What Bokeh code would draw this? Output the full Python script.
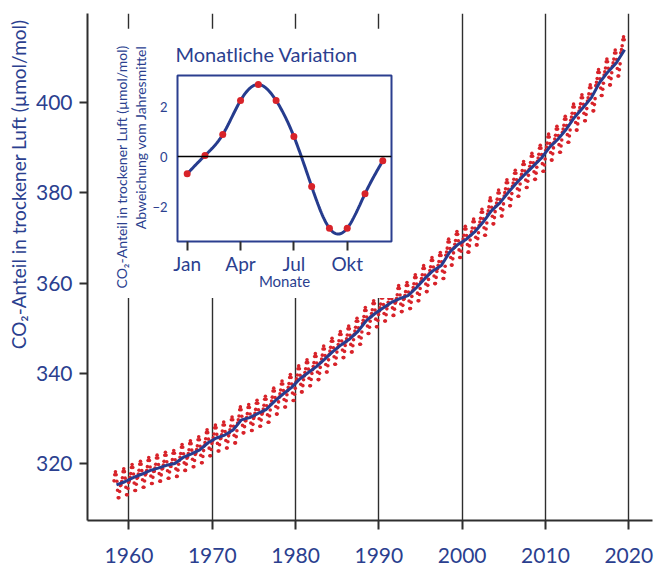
import numpy as np
from bokeh.plotting import figure
from bokeh.models import Range1d, Span, FixedTicker, Title
from bokeh.layouts import column
from bokeh.embed import file_html
from bokeh.resources import INLINE

# ---------------- data ----------------
years = list(range(1958, 2020))
annual_mean = [
    315.30, 315.98, 316.91, 317.64, 318.45, 318.99, 319.62, 320.04, 321.37, 322.18,
    323.05, 324.62, 325.68, 326.32, 327.46, 329.68, 330.19, 331.13, 332.03, 333.84,
    335.41, 336.84, 338.76, 340.12, 341.48, 343.15, 344.87, 346.35, 347.61, 349.31,
    351.69, 353.20, 354.45, 355.70, 356.54, 357.21, 358.96, 360.97, 362.74, 363.88,
    366.84, 368.54, 369.71, 371.32, 373.45, 375.98, 377.70, 379.98, 382.09, 384.02,
    385.83, 387.64, 390.10, 391.85, 394.06, 396.74, 398.81, 401.01, 404.41, 406.76,
    408.72, 411.66,
]
month_numbers = [1, 2, 3, 4, 5, 6, 7, 8, 9, 10, 11, 12]
seasonal_anomaly = [-0.69, 0.04, 0.88, 2.24, 2.88, 2.24, 0.80, -1.20, -2.87, -2.87, -1.49, -0.17]
first_month_1958 = 3   # record starts March 1958
last_month_2019 = 6    # record shown up to June 2019

x_ticks = [1960, 1970, 1980, 1990, 2000, 2010, 2020]
y_ticks = [320, 340, 360, 380, 400]
inset_x_ticks = [1, 4, 7, 10]
inset_x_labels = ["Jan", "Apr", "Jul", "Okt"]
inset_y_ticks = [-2, 0, 2]

BLUE = "#2b3f8f"
LINE_BLUE = "#263c8e"
RED = "#d8232a"
DARK = "#2e2e2e"
FONT = "Lato"

# monthly points = annual mean + mean seasonal anomaly of that month
mx, my = [], []
for yr, am in zip(years, annual_mean):
    for mn, an in zip(month_numbers, seasonal_anomaly):
        if yr == years[0] and mn < first_month_1958:
            continue
        if yr == years[-1] and mn > last_month_2019:
            continue
        mx.append(yr + (mn - 0.5) / 12.0)
        my.append(am + an)
line_x = [y + 0.5 for y in years]

# ---------------- main figure ----------------
p = figure(width=654, height=565,
           x_range=Range1d(1955.02, 2022.85), y_range=Range1d(307.4, 419.7),
           output_backend="svg", toolbar_location=None,
           min_border_left=87, min_border_right=2, min_border_top=13, min_border_bottom=45)
p.outline_line_color = None
p.background_fill_color = "white"
p.border_fill_color = "white"

p.ygrid.visible = False
p.xgrid.ticker = FixedTicker(ticks=x_ticks)
p.xgrid.grid_line_color = DARK
p.xgrid.grid_line_width = 1.4

p.xaxis.ticker = FixedTicker(ticks=x_ticks)
p.yaxis.ticker = FixedTicker(ticks=y_ticks)
for ax in (p.xaxis[0], p.yaxis[0]):
    ax.axis_line_color = DARK
    ax.axis_line_width = 2
    ax.major_tick_line_color = DARK
    ax.major_tick_line_width = 2
    ax.major_tick_in = 0
    ax.minor_tick_line_color = None
    ax.major_label_text_color = BLUE
    ax.major_label_text_font = FONT
p.xaxis.major_tick_out = 9
p.yaxis.major_tick_out = 8
p.xaxis.major_label_text_font_size = "21px"
p.yaxis.major_label_text_font_size = "21px"
p.xaxis.major_label_standoff = 18
p.yaxis.major_label_standoff = 7

p.scatter(mx, my, size=3.6, color=RED, line_color=None)
p.line(line_x, annual_mean, line_color=LINE_BLUE, line_width=3)

p.add_layout(Title(text="CO\u2082-Anteil in trockener Luft (\u00b5mol/mol)",
                   align="right", offset=6, standoff=6,
                   text_font=FONT, text_font_size="19px", text_font_style="normal",
                   text_color=BLUE), "left")

# ---------------- inset ----------------
xs = np.array(month_numbers, dtype=float)
ys = np.array(seasonal_anomaly, dtype=float)
n = len(xs)
h = np.diff(xs)
A = np.zeros((n, n))
b = np.zeros(n)
A[0, 0] = 1
A[-1, -1] = 1
for i in range(1, n - 1):
    A[i, i - 1] = h[i - 1]
    A[i, i] = 2 * (h[i - 1] + h[i])
    A[i, i + 1] = h[i]
    b[i] = 6 * ((ys[i + 1] - ys[i]) / h[i] - (ys[i] - ys[i - 1]) / h[i - 1])
M = np.linalg.solve(A, b)
cx, cy = [], []
for i in range(n - 1):
    t = np.linspace(xs[i], xs[i + 1], 20, endpoint=(i == n - 2))
    a1 = (xs[i + 1] - t) / h[i]
    a2 = (t - xs[i]) / h[i]
    val = (a1 * ys[i] + a2 * ys[i + 1]
           + ((a1 ** 3 - a1) * M[i] + (a2 ** 3 - a2) * M[i + 1]) * h[i] ** 2 / 6)
    cx.extend(t.tolist())
    cy.extend(val.tolist())

inset = figure(width=303, height=270,
               x_range=Range1d(0.455, 12.49), y_range=Range1d(-3.40, 3.24),
               output_backend="svg", toolbar_location=None,
               min_border_left=87, min_border_right=2, min_border_top=47, min_border_bottom=57)
inset.styles = {"position": "absolute", "left": "90px", "top": "28px"}
inset.background_fill_color = "white"
inset.border_fill_color = "white"
inset.outline_line_color = BLUE
inset.outline_line_width = 2
inset.xgrid.visible = False
inset.ygrid.visible = False

inset.title.text = "Monatliche Variation"
inset.title.text_font = FONT
inset.title.text_font_size = "20px"
inset.title.text_font_style = "normal"
inset.title.text_color = BLUE
inset.title.align = "left"
inset.title.offset = -2
inset.title.standoff = 20

inset.xaxis.ticker = FixedTicker(ticks=inset_x_ticks)
inset.xaxis.major_label_overrides = {t: l for t, l in zip(inset_x_ticks, inset_x_labels)}
inset.xaxis.axis_line_color = None
inset.xaxis.major_tick_out = 9
inset.xaxis.major_tick_in = 0
inset.xaxis.major_tick_line_color = DARK
inset.xaxis.major_tick_line_width = 2
inset.xaxis.minor_tick_line_color = None
inset.xaxis.major_label_text_font = FONT
inset.xaxis.major_label_text_font_size = "19px"
inset.xaxis.major_label_text_color = BLUE
inset.xaxis.major_label_standoff = 1
inset.xaxis.axis_label = "Monate"
inset.xaxis.axis_label_text_font = FONT
inset.xaxis.axis_label_text_font_size = "15px"
inset.xaxis.axis_label_text_font_style = "normal"
inset.xaxis.axis_label_text_color = BLUE
inset.xaxis.axis_label_standoff = -6

inset.yaxis.ticker = FixedTicker(ticks=inset_y_ticks)
inset.yaxis.axis_line_color = None
inset.yaxis.major_tick_out = 0
inset.yaxis.major_tick_in = 0
inset.yaxis.minor_tick_line_color = None
inset.yaxis.major_label_text_font = FONT
inset.yaxis.major_label_text_font_size = "13px"
inset.yaxis.major_label_text_color = BLUE
inset.yaxis.major_label_standoff = 10

inset.add_layout(Span(location=0, dimension="width", line_color="black", line_width=1.3))
inset.line(cx, cy, line_color=LINE_BLUE, line_width=3)
inset.scatter(month_numbers, seasonal_anomaly, size=7, color=RED, line_color=None)

inset.add_layout(Title(text="Abweichung vom Jahresmittel",
                       align="right", offset=-30, standoff=1,
                       text_font=FONT, text_font_size="14px", text_font_style="normal",
                       text_color=BLUE), "left")
inset.add_layout(Title(text="CO\u2082-Anteil in trockener Luft (\u00b5mol/mol)",
                       align="right", offset=-30, standoff=0,
                       text_font=FONT, text_font_size="14px", text_font_style="normal",
                       text_color=BLUE), "left")

layout = column(p, inset)
open("out.html", "w").write(file_html(layout, INLINE))
